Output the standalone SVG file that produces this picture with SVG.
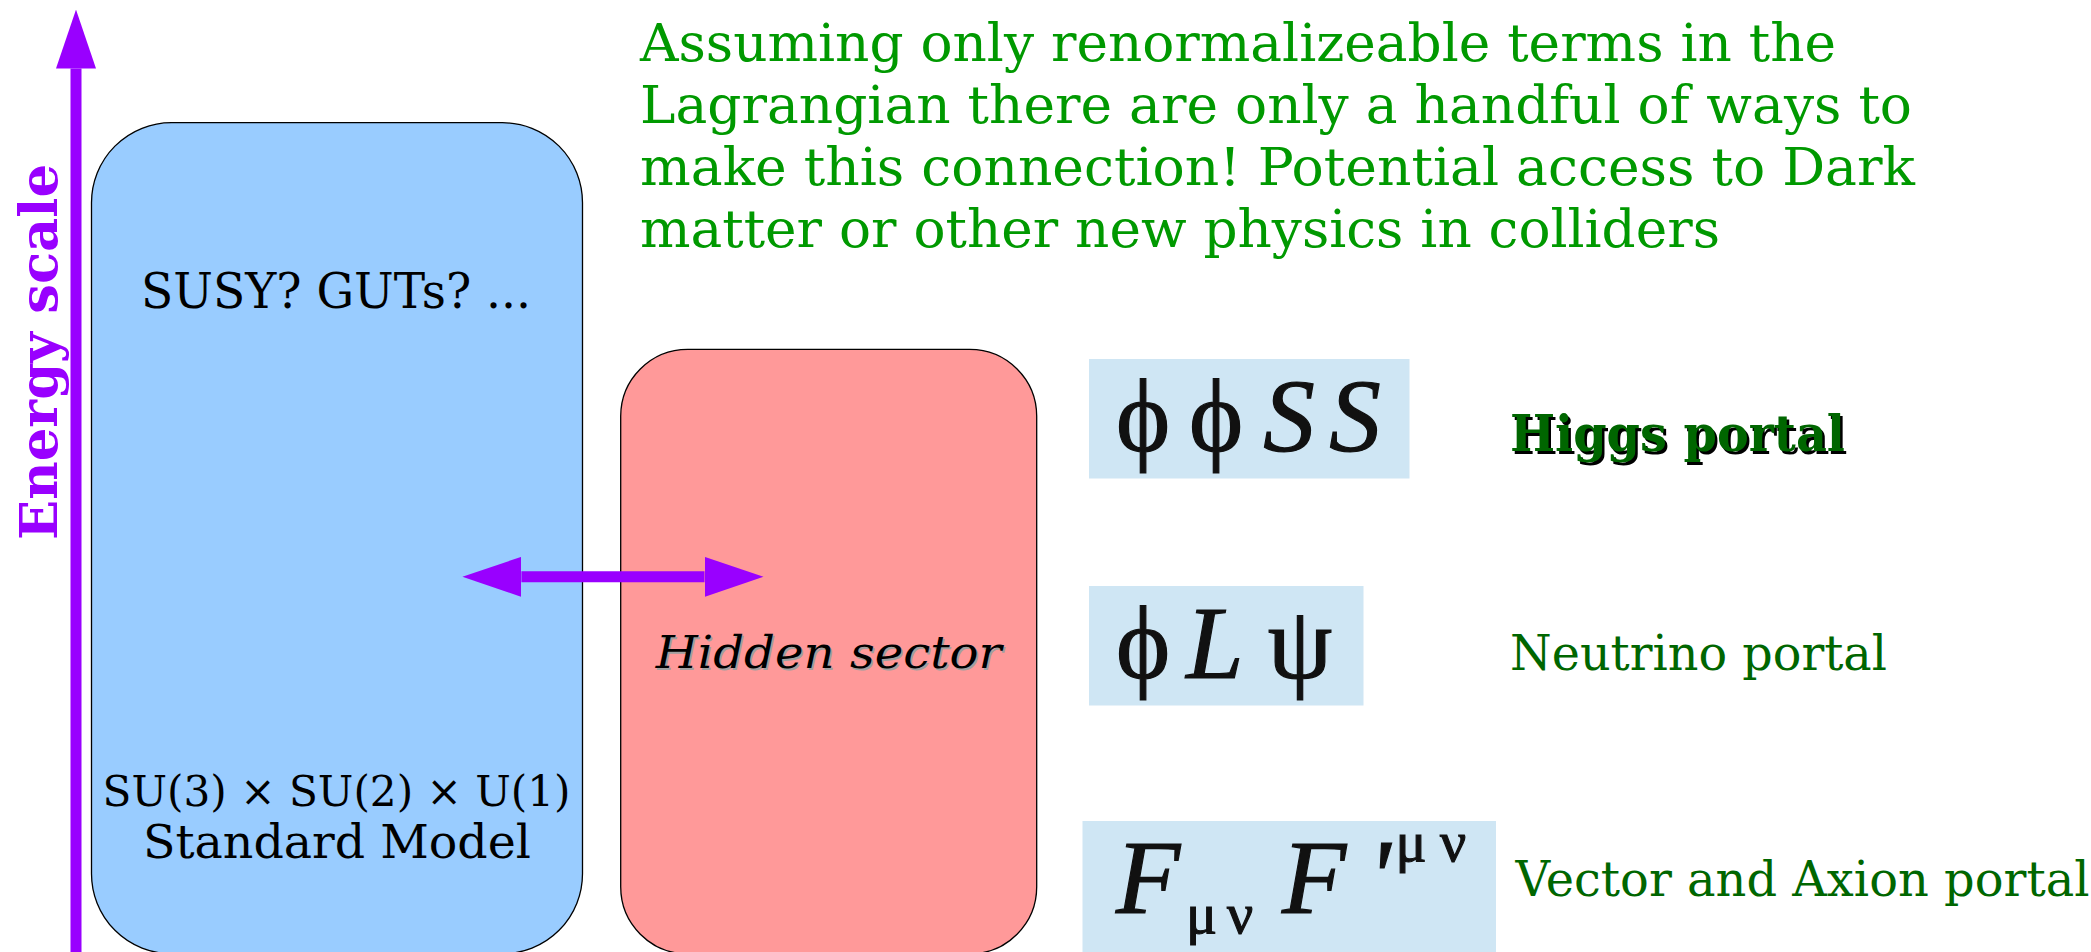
<svg xmlns="http://www.w3.org/2000/svg" width="2091" height="952" viewBox="0 0 2091 952">
<style>
.serif{font-family:"DejaVu Serif","Liberation Serif",serif}
.math{font-family:"Liberation Serif","DejaVu Serif","Times New Roman",serif;fill:#111;stroke:#111;stroke-width:1.2}
.box{stroke:#000;stroke-width:1.3}
.fbox{fill:#cfe6f4}
.lbl{font-family:"DejaVu Serif",serif;fill:#006600}
</style>
<defs>
<marker id="ah" markerUnits="userSpaceOnUse" viewBox="0 0 59 40" refX="0" refY="20" markerWidth="59" markerHeight="40" orient="auto-start-reverse">
<path d="M0,0 L59,20 L0,40 z" fill="#9900ff"/>
</marker>
</defs>
<rect width="2091" height="952" fill="#fff"/>

<g id="note">
<text class="serif" fill="#009900" font-size="53">
<tspan x="640" y="61" textLength="1196" lengthAdjust="spacingAndGlyphs">Assuming only renormalizeable terms in the</tspan>
<tspan x="640" y="123" textLength="1272" lengthAdjust="spacingAndGlyphs">Lagrangian there are only a handful of ways to</tspan>
<tspan x="640" y="185" textLength="1275" lengthAdjust="spacingAndGlyphs">make this connection! Potential access to Dark</tspan>
<tspan x="640" y="247" textLength="1080" lengthAdjust="spacingAndGlyphs">matter or other new physics in colliders</tspan>
</text>
</g>

<g id="energy-axis-label">
<text class="serif" font-weight="bold" font-size="52" fill="#9900ff" text-anchor="middle" transform="translate(57,352) rotate(-90)" textLength="376" lengthAdjust="spacingAndGlyphs">Energy scale</text>
</g>

<g id="node-standard-model">
<rect class="box" x="91.5" y="122.7" width="491" height="831" rx="80" ry="80" fill="#99ccff"/>
<text class="serif" font-size="48" text-anchor="middle" x="336" y="308" textLength="390" lengthAdjust="spacingAndGlyphs">SUSY? GUTs? ...</text>
<text class="serif" font-size="43" text-anchor="middle" x="336.6" y="806" textLength="468" lengthAdjust="spacingAndGlyphs">SU(3) × SU(2) × U(1)</text>
<text class="serif" font-size="47" text-anchor="middle" x="337" y="858" textLength="388" lengthAdjust="spacingAndGlyphs">Standard Model</text>
</g>

<g id="node-hidden-sector">
<rect class="box" x="620.7" y="349.3" width="416" height="604.5" rx="67" ry="67" fill="#ff9999"/>
<text class="serif" font-style="italic" font-size="45" text-anchor="middle" x="830.2" y="669.5" fill="#a0a0a0" textLength="346" lengthAdjust="spacingAndGlyphs">Hidden sector</text>
<text class="serif" font-style="italic" font-size="45" text-anchor="middle" x="828.7" y="668" fill="#000" textLength="346" lengthAdjust="spacingAndGlyphs">Hidden sector</text>
</g>

<g id="node-higgs-term">
<rect class="fbox" x="1089" y="359" width="320.5" height="119.5"/>
<text class="math" font-size="103" text-anchor="middle" y="451"><tspan x="1143">ϕ</tspan><tspan x="1216">ϕ</tspan><tspan x="1289" font-style="italic">S</tspan><tspan x="1355" font-style="italic">S</tspan></text>
</g>

<g id="node-neutrino-term">
<rect class="fbox" x="1089" y="586" width="274.5" height="119.5"/>
<text class="math" font-size="103" text-anchor="middle" y="678"><tspan x="1143">ϕ</tspan><tspan x="1215" font-style="italic">L</tspan><tspan x="1300">ψ</tspan></text>
</g>

<g id="node-vector-term">
<rect class="fbox" x="1082.5" y="821" width="413.5" height="131"/>
<text class="math" font-size="105" text-anchor="middle" y="913"><tspan x="1148" font-style="italic">F</tspan><tspan x="1314" font-style="italic">F</tspan><tspan x="1379" font-style="italic">'</tspan></text>
<text class="math" font-size="58" text-anchor="middle" y="933"><tspan x="1201.5">μ</tspan><tspan x="1240">ν</tspan></text>
<text class="math" font-size="58" text-anchor="middle" y="860.5"><tspan x="1411">μ</tspan><tspan x="1453">ν</tspan></text>
</g>

<g id="label-higgs">
<text class="serif" font-weight="bold" font-size="50" x="1512.5" y="453.5" fill="#000" textLength="335" lengthAdjust="spacingAndGlyphs">Higgs portal</text>
<text class="serif" font-weight="bold" font-size="50" x="1510" y="451" fill="#006600" textLength="335" lengthAdjust="spacingAndGlyphs">Higgs portal</text>
</g>
<g id="label-neutrino">
<text class="lbl" font-size="48" x="1510" y="669.5" textLength="377" lengthAdjust="spacingAndGlyphs">Neutrino portal</text>
</g>
<g id="label-vector">
<text class="lbl" font-size="48" x="1515.5" y="896" textLength="574" lengthAdjust="spacingAndGlyphs">Vector and Axion portal</text>
</g>

<g id="connectors" stroke="#9900ff" stroke-width="11" fill="none">
<line id="energy-axis" x1="76" y1="960" x2="76" y2="68.6" marker-end="url(#ah)"/>
<line id="portal-arrow" x1="521.4" y1="576.8" x2="704.5" y2="576.8" marker-start="url(#ah)" marker-end="url(#ah)"/>
</g>
</svg>
